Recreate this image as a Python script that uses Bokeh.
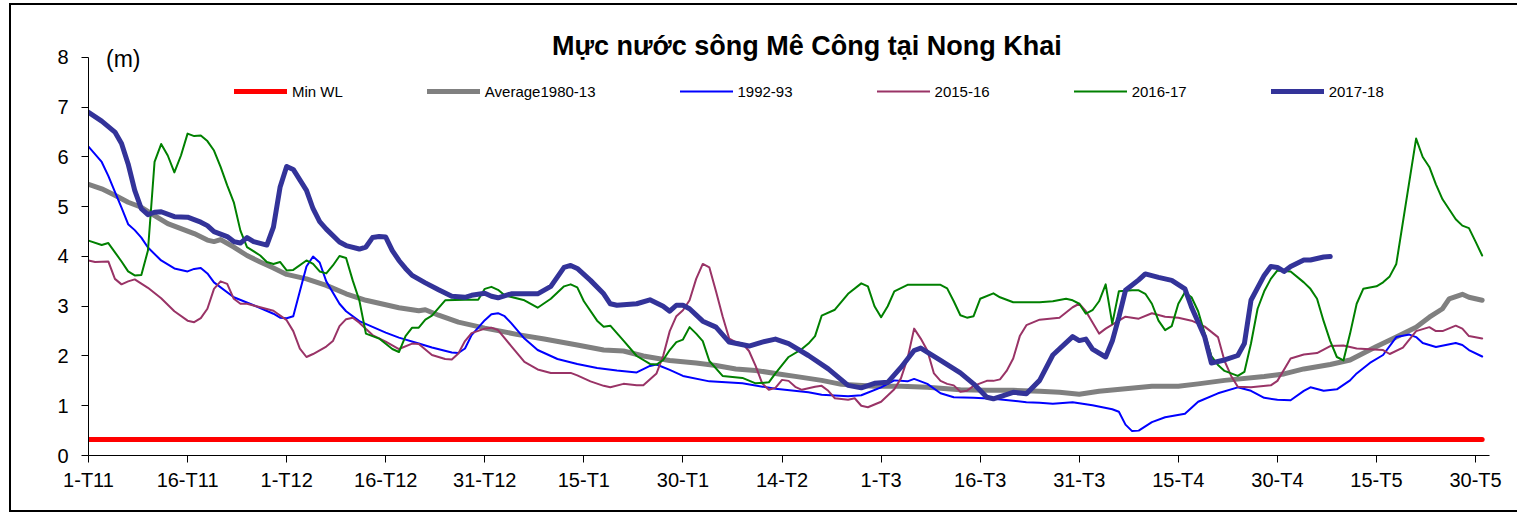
from bokeh.plotting import figure
from bokeh.models import Range1d, Label, Legend, LegendItem, FixedTicker
from bokeh.embed import file_html
from bokeh.resources import INLINE

FONT = "Liberation Sans"

# x = day offset from 1 Nov (1-T11 = 0)
tick_days = [0, 15, 30, 45, 60, 75, 90, 105, 120, 135, 150, 165, 180, 195, 210]
tick_labels = ["1-T11", "16-T11", "1-T12", "16-T12", "31-T12", "15-T1", "30-T1", "14-T2",
               "1-T3", "16-T3", "31-T3", "15-T4", "30-T4", "15-T5", "30-T5"]

min_wl = [(0, 0.32), (211, 0.32)]

avg_1980_13 = [(0, 5.45), (2, 5.36), (4, 5.23), (6, 5.09), (8, 4.99), (10, 4.82), (12, 4.66), (14, 4.56),
               (16, 4.46), (18, 4.33), (19, 4.30), (20, 4.34), (22, 4.19), (24, 4.02), (26, 3.89), (28, 3.77),
               (30, 3.64), (33, 3.55), (36, 3.42), (39, 3.25), (42, 3.12), (44, 3.06), (47, 2.97), (50, 2.91),
               (51, 2.93), (53, 2.82), (56, 2.68), (58, 2.62), (60, 2.56), (62, 2.51), (65, 2.43), (69, 2.34),
               (74, 2.22), (78, 2.12), (81, 2.10), (84, 2.00), (88, 1.91), (92, 1.86), (95, 1.81), (98, 1.74),
               (101, 1.71), (105, 1.63), (107, 1.59), (111, 1.51), (114, 1.43), (119, 1.39), (123, 1.39),
               (127, 1.37), (132, 1.32), (136, 1.31), (140, 1.31), (144, 1.29), (147, 1.27), (150, 1.23),
               (153, 1.29), (157, 1.34), (161, 1.39), (165, 1.39), (168, 1.44), (172, 1.51), (178, 1.59),
               (181, 1.64), (184, 1.74), (188, 1.83), (191, 1.92), (195, 2.19), (198, 2.38), (201, 2.58),
               (203, 2.78), (205, 2.95), (206, 3.15), (208, 3.24), (209, 3.18), (211, 3.12)]

y1992_93 = [(0, 6.21), (2, 5.90), (3, 5.62), (4, 5.30), (5, 4.98), (6, 4.65), (7, 4.53), (8, 4.38), (9, 4.18),
            (11, 3.92), (13, 3.76), (15, 3.70), (16, 3.75), (17, 3.77), (18, 3.66), (19, 3.48), (22, 3.18),
            (25, 3.02), (28, 2.85), (29, 2.77), (30, 2.76), (31, 2.80), (32, 3.30), (33, 3.80), (34, 4.00),
            (35, 3.88), (36, 3.50), (38, 3.05), (39, 2.90), (41, 2.70), (45, 2.47), (47, 2.37), (50, 2.25),
            (52, 2.17), (55, 2.07), (56, 2.06), (57, 2.15), (58, 2.42), (60, 2.72), (61, 2.84), (62, 2.86),
            (63, 2.80), (64, 2.66), (66, 2.35), (68, 2.12), (71, 1.94), (74, 1.84), (77, 1.76), (80, 1.71),
            (83, 1.67), (85, 1.80), (86, 1.83), (88, 1.72), (90, 1.60), (94, 1.49), (99, 1.45), (104, 1.34),
            (109, 1.27), (111, 1.22), (115, 1.19), (117, 1.21), (120, 1.37), (122, 1.51), (124, 1.49),
            (125, 1.54), (127, 1.44), (129, 1.25), (131, 1.17), (134, 1.16), (137, 1.14), (140, 1.10),
            (142, 1.07), (144, 1.06), (146, 1.04), (149, 1.07), (152, 1.01), (155, 0.93), (156, 0.88),
            (157, 0.62), (158, 0.49), (159, 0.50), (161, 0.67), (163, 0.77), (166, 0.84), (168, 1.08),
            (171, 1.25), (174, 1.37), (176, 1.30), (178, 1.16), (180, 1.12), (182, 1.11), (184, 1.30),
            (185, 1.37), (187, 1.30), (189, 1.33), (191, 1.51), (192, 1.65), (194, 1.86), (196, 2.02),
            (198, 2.38), (200, 2.43), (201, 2.38), (202, 2.26), (204, 2.18), (207, 2.26), (208, 2.22),
            (209, 2.12), (211, 1.99)]

y2015_16 = [(0, 3.92), (1, 3.89), (3, 3.90), (4, 3.55), (5, 3.44), (6, 3.50), (7, 3.54), (9, 3.37), (11, 3.16),
            (13, 2.90), (15, 2.71), (16, 2.68), (17, 2.76), (18, 2.95), (19, 3.35), (20, 3.50), (21, 3.45),
            (22, 3.15), (23, 3.05), (24, 3.05), (26, 2.98), (28, 2.91), (30, 2.72), (31, 2.50), (32, 2.15),
            (33, 1.98), (34, 2.04), (36, 2.19), (37, 2.30), (38, 2.60), (39, 2.74), (40, 2.77), (41, 2.67),
            (43, 2.42), (45, 2.29), (47, 2.14), (49, 2.25), (50, 2.24), (52, 2.02), (54, 1.94), (55, 1.93),
            (56, 2.05), (57, 2.30), (58, 2.46), (60, 2.55), (61, 2.57), (62, 2.52), (64, 2.20), (66, 1.88),
            (68, 1.73), (70, 1.66), (73, 1.66), (74, 1.61), (76, 1.49), (78, 1.40), (79, 1.37), (81, 1.44),
            (83, 1.41), (84, 1.41), (86, 1.65), (87, 2.00), (88, 2.50), (89, 2.80), (90, 2.92), (91, 3.12),
            (92, 3.55), (93, 3.85), (94, 3.78), (95, 3.30), (96, 2.80), (97, 2.35), (98, 2.28), (99, 2.25),
            (100, 2.10), (101, 1.80), (102, 1.45), (103, 1.32), (104, 1.36), (105, 1.52), (106, 1.50),
            (107, 1.38), (108, 1.32), (110, 1.38), (111, 1.40), (112, 1.30), (113, 1.15), (115, 1.12),
            (116, 1.15), (117, 1.00), (118, 0.97), (120, 1.08), (122, 1.33), (123, 1.55), (124, 1.95),
            (125, 2.55), (126, 2.35), (127, 2.11), (128, 1.65), (129, 1.50), (130, 1.44), (131, 1.41),
            (132, 1.28), (133, 1.30), (134, 1.40), (136, 1.50), (137, 1.50), (138, 1.53), (139, 1.70),
            (140, 1.95), (141, 2.40), (142, 2.62), (144, 2.73), (147, 2.77), (149, 2.98), (150, 3.05),
            (151, 2.90), (153, 2.45), (154, 2.55), (157, 2.79), (159, 2.75), (161, 2.86), (163, 2.79),
            (165, 2.77), (167, 2.71), (169, 2.59), (171, 2.38), (172, 1.90), (173, 1.60), (174, 1.38),
            (176, 1.37), (179, 1.41), (180, 1.50), (182, 1.95), (184, 2.03), (186, 2.06), (188, 2.20),
            (190, 2.21), (192, 2.15), (196, 2.12), (197, 2.04), (199, 2.17), (201, 2.50), (203, 2.58),
            (204, 2.50), (205, 2.50), (207, 2.61), (208, 2.55), (209, 2.40), (211, 2.35)]

y2016_17 = [(0, 4.32), (2, 4.23), (3, 4.27), (5, 3.90), (6, 3.70), (7, 3.62), (8, 3.63), (9, 4.12), (10, 5.90),
            (11, 6.26), (12, 6.03), (13, 5.69), (14, 6.03), (15, 6.47), (16, 6.42), (17, 6.43), (18, 6.32),
            (19, 6.13), (20, 5.80), (21, 5.43), (22, 5.09), (23, 4.52), (24, 4.19), (26, 4.02), (27, 3.89),
            (28, 3.85), (29, 3.89), (30, 3.72), (31, 3.73), (33, 3.92), (34, 3.85), (35, 3.70), (36, 3.66),
            (37, 3.82), (38, 4.01), (39, 3.97), (40, 3.52), (41, 3.12), (42, 2.45), (44, 2.35), (46, 2.14),
            (47, 2.08), (48, 2.40), (49, 2.57), (50, 2.57), (51, 2.73), (52, 2.81), (54, 3.12), (57, 3.13),
            (59, 3.13), (60, 3.35), (61, 3.39), (62, 3.33), (63, 3.22), (66, 3.12), (68, 2.97), (70, 3.15),
            (72, 3.40), (73, 3.44), (74, 3.38), (75, 3.10), (77, 2.71), (78, 2.59), (79, 2.61), (81, 2.31),
            (83, 2.00), (85, 1.84), (86, 1.83), (87, 1.92), (88, 2.12), (89, 2.28), (90, 2.33), (91, 2.58),
            (92, 2.45), (93, 2.30), (94, 1.90), (96, 1.60), (99, 1.56), (101, 1.45), (103, 1.47), (104, 1.65),
            (106, 1.98), (108, 2.14), (109, 2.25), (110, 2.40), (111, 2.81), (113, 2.93), (115, 3.25),
            (117, 3.46), (118, 3.40), (119, 3.00), (120, 2.78), (121, 3.00), (122, 3.30), (124, 3.43),
            (129, 3.43), (130, 3.36), (131, 3.10), (132, 2.82), (133, 2.77), (134, 2.80), (135, 3.15),
            (137, 3.26), (138, 3.18), (140, 3.08), (142, 3.08), (144, 3.08), (146, 3.10), (148, 3.15),
            (149, 3.12), (150, 3.05), (151, 2.85), (152, 2.92), (153, 3.10), (154, 3.44), (155, 2.65),
            (156, 3.30), (158, 3.32), (159, 3.32), (160, 3.25), (161, 3.05), (162, 2.71), (163, 2.52),
            (164, 2.60), (165, 3.05), (166, 3.28), (167, 3.18), (168, 2.90), (169, 2.45), (170, 2.00),
            (171, 1.82), (172, 1.70), (174, 1.60), (175, 1.68), (176, 2.25), (177, 2.95), (178, 3.30),
            (179, 3.55), (180, 3.72), (182, 3.70), (184, 3.48), (185, 3.35), (186, 3.15), (187, 2.70),
            (188, 2.30), (189, 1.98), (190, 1.91), (191, 2.45), (192, 3.05), (193, 3.35), (195, 3.40),
            (196, 3.48), (197, 3.60), (198, 3.85), (201, 6.37), (202, 6.00), (203, 5.80), (204, 5.45),
            (205, 5.15), (206, 4.95), (207, 4.75), (208, 4.62), (209, 4.57), (210, 4.30), (211, 4.02)]

y2017_18 = [(0, 6.90), (2, 6.72), (4, 6.50), (5, 6.27), (6, 5.86), (7, 5.33), (8, 4.96), (9, 4.84), (10, 4.89),
            (11, 4.90), (13, 4.80), (15, 4.79), (17, 4.69), (18, 4.62), (19, 4.50), (21, 4.40), (22, 4.30),
            (23, 4.27), (24, 4.38), (25, 4.30), (27, 4.23), (28, 4.59), (29, 5.39), (30, 5.81), (31, 5.75),
            (33, 5.33), (34, 4.96), (35, 4.70), (36, 4.55), (38, 4.29), (39, 4.22), (41, 4.15), (42, 4.19),
            (43, 4.38), (44, 4.40), (45, 4.39), (46, 4.12), (47, 3.92), (48, 3.76), (49, 3.62), (51, 3.47),
            (53, 3.33), (55, 3.20), (57, 3.18), (58, 3.22), (60, 3.26), (61, 3.20), (62, 3.17), (64, 3.25),
            (68, 3.25), (70, 3.40), (72, 3.78), (73, 3.82), (74, 3.76), (76, 3.52), (78, 3.25), (79, 3.05),
            (80, 3.02), (83, 3.05), (85, 3.13), (87, 3.00), (88, 2.90), (89, 3.02), (90, 3.02), (91, 2.95),
            (93, 2.70), (95, 2.58), (97, 2.28), (100, 2.20), (102, 2.28), (104, 2.34), (106, 2.25),
            (109, 2.01), (112, 1.74), (115, 1.41), (117, 1.36), (119, 1.45), (121, 1.47), (123, 1.77),
            (125, 2.11), (126, 2.16), (129, 1.91), (132, 1.66), (134, 1.44), (136, 1.17), (137, 1.14),
            (140, 1.27), (142, 1.24), (144, 1.51), (146, 2.02), (149, 2.39), (150, 2.31), (151, 2.34),
            (152, 2.14), (154, 1.98), (155, 2.30), (156, 2.78), (157, 3.32), (159, 3.53), (160, 3.65),
            (162, 3.58), (164, 3.52), (166, 3.35), (167, 2.98), (169, 2.38), (170, 1.86), (172, 1.92),
            (174, 2.01), (175, 2.25), (176, 3.12), (178, 3.62), (179, 3.80), (180, 3.78), (181, 3.70),
            (182, 3.80), (184, 3.93), (185, 3.93), (187, 3.99), (188, 4.00)]

series = [
    ("Min WL", min_wl, "#FF0000", 5),
    ("Average1980-13", avg_1980_13, "#808080", 5),
    ("1992-93", y1992_93, "#0000FF", 2),
    ("2015-16", y2015_16, "#993366", 2),
    ("2016-17", y2016_17, "#008000", 2),
    ("2017-18", y2017_18, "#333399", 5),
]

# canvas placed at page x=11, y=5; chart-area border drawn as box shadows (no layout effect)
p = figure(width=1506, height=505, output_backend="svg", toolbar_location=None,
           x_range=Range1d(0, 216.35), y_range=Range1d(0, 9.045),
           min_border_left=77, min_border_right=0, min_border_top=0, min_border_bottom=55)
p.styles = {"margin-left": "11px", "margin-top": "5px",
            "box-shadow": "-2px 0 0 0 black, 0 -2px 0 0 black, 0 2px 0 0 black, -2px -2px 0 0 black, -2px 2px 0 0 black"}
p.xgrid.visible = False
p.ygrid.visible = False
p.outline_line_color = None
p.background_fill_color = "white"
p.border_fill_color = "white"

for ax in (p.xaxis[0], p.yaxis[0]):
    ax.axis_line_color = "black"
    ax.axis_line_width = 1
    ax.major_tick_line_color = "black"
    ax.major_tick_in = 0
    ax.major_tick_out = 7
    ax.minor_tick_line_color = None
    ax.major_label_text_font = FONT
    ax.major_label_text_font_size = "20px"
    ax.major_label_text_color = "black"

p.xaxis.ticker = FixedTicker(ticks=tick_days)
p.xaxis.major_label_overrides = {d: lab for d, lab in zip(tick_days, tick_labels)}
p.xaxis.bounds = (0, 212.1)
p.xaxis.major_label_standoff = 6
p.yaxis.ticker = FixedTicker(ticks=list(range(0, 9)))
p.yaxis.bounds = (0, 8)
p.yaxis.major_label_standoff = 13

items = []
for name, pts, color, w in series:
    xs = [d for d, _ in pts]
    ys = [v for _, v in pts]
    r = p.line(xs, ys, line_color=color, line_width=w, line_join="round", line_cap="round")
    items.append(LegendItem(label=name, renderers=[r]))

legend = Legend(items=items, orientation="horizontal", location=(146, 354),
                glyph_width=53, glyph_height=20, label_height=20, label_standoff=5, spacing=84,
                padding=0, margin=0, border_line_color=None, background_fill_alpha=0,
                label_text_font=FONT, label_text_font_size="15px", label_text_color="black")
p.add_layout(legend, "center")

p.add_layout(Label(x=108.75, y=8.24, text="Mực nước sông Mê Công tại Nong Khai", text_align="center",
                   text_baseline="middle", text_font=FONT, text_font_style="bold",
                   text_font_size="27px", text_color="black"))
p.add_layout(Label(x=2.65, y=7.97, text="(m)", text_align="left", text_baseline="middle",
                   text_font=FONT, text_font_size="23px", text_color="black"))

open("out.html", "w").write(file_html(p, INLINE))
